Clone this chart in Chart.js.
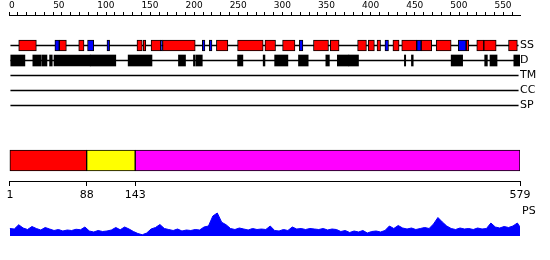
<!DOCTYPE html>
<html lang="en">
<head>
  <meta charset="UTF-8" />
  <title>Sequence feature map</title>
  <script src="https://cdn.jsdelivr.net/npm/chart.js"></script>
  <style>
    html, body { margin: 0; padding: 0; background: #fff; }
    #wrap { position: relative; width: 550px; height: 260px; overflow: hidden; }
    canvas { position: absolute; left: 0; }
  </style>
</head>
<body>
  <div id="wrap">
    <canvas id="ruler" width="550" height="20" style="top:0px"></canvas>
    <canvas id="tracks" width="550" height="90" style="top:30px"></canvas>
    <canvas id="domains" width="550" height="80" style="top:130px"></canvas>
    <canvas id="ps" width="550" height="45" style="top:200px"></canvas>
  </div>

  <script>
    // ------------------------------------------
    // Data (residue positions)
    // ------------------------------------------
    const SEQ_LEN = 579;
    const trackNames = ['SS', 'D', 'TM', 'CC', 'SP'];
    const backbone = [2, 577];

    const rulerTicks = [0, 10, 20, 30, 40, 50, 60, 70, 80, 90, 100, 110, 120, 130, 140, 150, 160, 170,
      180, 190, 200, 210, 220, 230, 240, 250, 260, 270, 280, 290, 300, 310, 320, 330, 340, 350, 360,
      370, 380, 390, 400, 410, 420, 430, 440, 450, 460, 470, 480, 490, 500, 510, 520, 530, 540, 550, 560, 570];

    // secondary structure: helix (red) and strand (blue)
    const helix = [[11, 31], [57, 65], [79, 85], [145, 151], [152, 155], [161, 172], [174, 211],
      [235, 248], [259, 288], [290, 302], [310, 324], [345, 362], [364, 374], [395, 405], [407, 414],
      [417, 421], [435, 442], [445, 462], [467, 479], [484, 501], [518, 521], [530, 538], [538, 552],
      [566, 576]];
    const strand = [[52, 57], [89, 96], [111, 114], [172, 174], [219, 222], [227, 230], [329, 333],
      [426, 430], [462, 467], [509, 518]];

    // disorder
    const disorder = [[2, 18], [27, 36], [37, 43], [46, 49], [51, 92], [92, 121], [135, 162],
      [192, 200], [209, 211], [212, 219], [259, 265], [288, 290], [301, 316], [328, 339], [359, 363],
      [372, 385], [385, 396], [448, 449.5], [456, 458], [501, 514], [539, 542], [545, 553], [572, 579]];

    // domain boundaries
    const domainRanges = [[1, 88], [88, 143], [143, 579]];
    const domainColors = ['#ff0000', '#ffff00', '#ff00ff'];
    const domainTicks = [1, 88, 143, 579];

    // PS profile
    const psPos = [1, 6, 11, 16, 21, 26, 31, 36, 41, 46, 51, 56, 61, 66, 71, 76, 81, 86, 91, 96,
      101, 106, 111, 116, 121, 126, 131, 136, 141, 146, 151, 156, 161, 166, 171, 176, 181, 186, 191, 196,
      201, 206, 211, 216, 221, 226, 231, 236, 241, 246, 251, 256, 261, 266, 271, 276, 281, 286, 291, 296,
      301, 306, 311, 316, 321, 326, 331, 336, 341, 346, 351, 356, 361, 366, 371, 376, 381, 386, 391, 396,
      401, 406, 411, 416, 421, 426, 431, 436, 441, 446, 451, 456, 461, 466, 471, 476, 481, 486, 491, 496,
      501, 506, 511, 516, 521, 526, 531, 536, 541, 546, 551, 556, 561, 566, 571, 576, 579];
    const psVal = [0.30, 0.28, 0.45, 0.32, 0.26, 0.38, 0.30, 0.24, 0.34, 0.28, 0.22, 0.26, 0.20, 0.24,
      0.22, 0.27, 0.25, 0.36, 0.20, 0.16, 0.22, 0.18, 0.20, 0.24, 0.34, 0.25, 0.36, 0.28, 0.18, 0.10,
      0.05, 0.12, 0.28, 0.34, 0.46, 0.30, 0.26, 0.22, 0.28, 0.20, 0.24, 0.22, 0.26, 0.24, 0.36, 0.40,
      0.80, 0.92, 0.55, 0.45, 0.30, 0.26, 0.32, 0.28, 0.24, 0.30, 0.26, 0.28, 0.26, 0.40, 0.22, 0.20,
      0.26, 0.22, 0.36, 0.28, 0.30, 0.26, 0.30, 0.28, 0.26, 0.30, 0.24, 0.28, 0.26, 0.18, 0.22, 0.14,
      0.20, 0.16, 0.22, 0.12, 0.18, 0.20, 0.16, 0.22, 0.40, 0.30, 0.42, 0.32, 0.28, 0.32, 0.26, 0.30,
      0.34, 0.30, 0.48, 0.74, 0.56, 0.40, 0.30, 0.26, 0.32, 0.28, 0.30, 0.26, 0.32, 0.28, 0.30, 0.52,
      0.36, 0.32, 0.38, 0.34, 0.40, 0.52, 0.36];

    // ------------------------------------------
    // Shared settings
    // ------------------------------------------
    Chart.defaults.font.family = "'DejaVu Sans', sans-serif";
    Chart.defaults.color = '#000';
    const common = {
      responsive: false,
      animation: false,
      plugins: { legend: { display: false }, tooltip: { enabled: false } }
    };
    const seqAxis = { type: 'linear', min: 0, max: SEQ_LEN };

    // ruler
    new Chart(document.getElementById('ruler'), {
      type: 'line',
      data: { datasets: [] },
      options: {
        ...common,
        layout: { padding: { left: 9, right: 30, top: 0, bottom: 0 } },
        scales: {
          x: {
            ...seqAxis,
            position: 'top',
            afterBuildTicks: s => { s.ticks = rulerTicks.map(v => ({ value: v })); },
            afterFit: s => { s.height = 15; },
            ticks: {
              autoSkip: false, maxRotation: 0, minRotation: 0, align: 'start', padding: 1,
              font: { size: 9 },
              callback: v => (v % 50 === 0 ? String(v) : '')
            },
            grid: { drawOnChartArea: false, tickLength: 3, color: '#000' },
            border: { display: true, color: '#000' }
          },
          y: { display: false }
        }
      }
    });

    // feature tracks
    new Chart(document.getElementById('tracks'), {
      type: 'bar',
      data: {
        datasets: [
          { data: strand.map(r => ({ y: 'SS', x: r })), backgroundColor: '#0000ff',
            borderColor: '#000', borderWidth: 1, barThickness: 11 },
          { data: helix.map(r => ({ y: 'SS', x: r })), backgroundColor: '#ff0000',
            borderColor: '#000', borderWidth: 1, barThickness: 11 },
          { data: disorder.map(r => ({ y: 'D', x: r })), backgroundColor: '#000',
            borderWidth: 0, barThickness: 11 },
          { data: trackNames.map(t => ({ y: t, x: backbone })), backgroundColor: '#000',
            borderWidth: 0, barThickness: 1 }
        ]
      },
      options: {
        ...common,
        indexAxis: 'y',
        datasets: { bar: { grouped: false, borderSkipped: false } },
        layout: { padding: { left: 9, right: 0, top: 8, bottom: 7 } },
        scales: {
          x: { ...seqAxis, display: false },
          y: {
            type: 'category',
            labels: trackNames,
            position: 'right',
            afterFit: s => { s.width = 30; },
            grid: { display: false, drawTicks: false },
            border: { display: false },
            ticks: { autoSkip: false, padding: 0, font: { size: 11 } }
          }
        }
      }
    });

    // domain bar + position axis
    new Chart(document.getElementById('domains'), {
      type: 'bar',
      data: {
        datasets: [{
          data: domainRanges.map(r => ({ y: 'dom', x: r })),
          backgroundColor: domainColors,
          borderColor: '#000',
          borderWidth: 1,
          barThickness: 21
        }]
      },
      options: {
        ...common,
        indexAxis: 'y',
        datasets: { bar: { grouped: false, borderSkipped: false } },
        layout: { padding: { left: 9, right: 30, top: 10, bottom: 0 } },
        scales: {
          x: {
            ...seqAxis,
            position: 'bottom',
            afterBuildTicks: s => { s.ticks = domainTicks.map(v => ({ value: v })); },
            afterFit: s => { s.height = 29; },
            ticks: { autoSkip: false, maxRotation: 0, minRotation: 0, padding: 3,
              font: { size: 11 }, callback: v => String(v) },
            grid: { drawOnChartArea: false, tickLength: 5, color: '#000' },
            border: { display: true, color: '#000' }
          },
          y: { type: 'category', labels: ['dom'], display: false }
        }
      }
    });

    // PS profile
    new Chart(document.getElementById('ps'), {
      type: 'line',
      data: {
        datasets: [{
          data: psPos.map((p, i) => ({ x: p, y: psVal[i] })),
          borderColor: '#0000ff',
          backgroundColor: '#0000ff',
          borderWidth: 1,
          pointRadius: 0,
          tension: 0,
          fill: 'origin'
        }]
      },
      options: {
        ...common,
        layout: { padding: { left: 9, right: 0, top: 11, bottom: 9 } },
        scales: {
          x: { ...seqAxis, display: false },
          y: {
            min: 0, max: 1,
            position: 'right',
            afterFit: s => { s.width = 30; },
            afterBuildTicks: s => { s.ticks = [{ value: 1 }]; },
            ticks: { autoSkip: false, padding: 2, font: { size: 11 }, callback: () => 'PS' },
            grid: { display: false, drawTicks: false },
            border: { display: false }
          }
        }
      }
    });
  </script>
</body>
</html>
